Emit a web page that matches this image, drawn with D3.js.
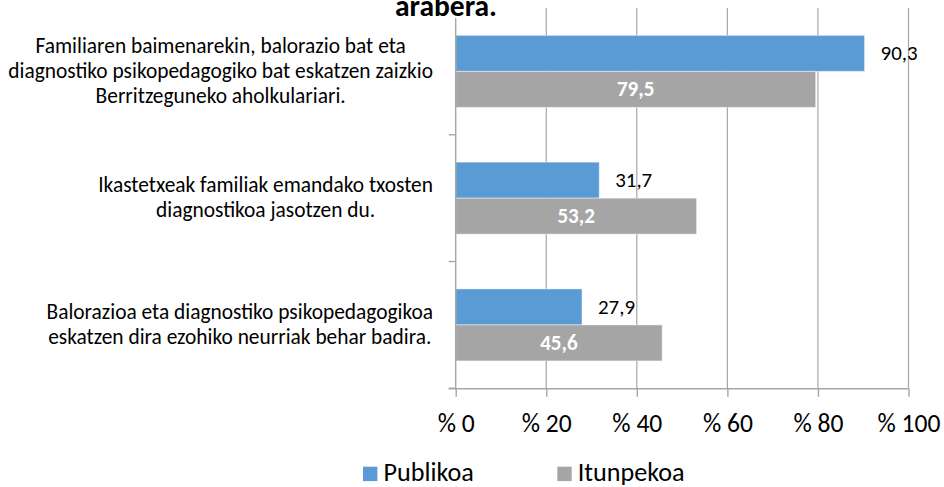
<!DOCTYPE html>
<html><head><meta charset="utf-8">
<script src="https://cdn.jsdelivr.net/npm/d3@7"></script>
<style>
html,body{margin:0;padding:0;background:#fff;}
svg{display:block;font-family:Carlito, Lato, "Open Sans", sans-serif;}
</style></head>
<body>
<svg id="chart" width="944" height="487"></svg>
<script>
const categories = [
  ["Familiaren baimenarekin, balorazio bat eta", "diagnostiko psikopedagogiko bat eskatzen zaizkio", "Berritzeguneko aholkulariari."],
  ["Ikastetxeak familiak emandako txosten", "diagnostikoa jasotzen du."],
  ["Balorazioa eta diagnostiko psikopedagogikoa", "eskatzen dira ezohiko neurriak behar badira."]
];
const seriesNames = ["Publikoa", "Itunpekoa"];
const publikoa = [90.3, 31.7, 27.9];
const itunpekoa = [79.5, 53.2, 45.6];
const xTicks = [0, 20, 40, 60, 80, 100];
const titleText = "arabera.";

const colors = ["#5B9BD5", "#A5A5A5"];
const FONT = "Carlito, Lato, 'Open Sans', sans-serif";
const svg = d3.select("#chart");
const plot = {left: 455.7, right: 908.5, top: 8, bottom: 388.3};

function fitSize(sample, target, weight) {
  const t = svg.append("text").attr("font-size", 100).attr("font-family", FONT)
    .attr("font-weight", weight || "normal").text(sample);
  const w = t.node().getComputedTextLength();
  t.remove();
  return 100 * target / w;
}
const catSize = fitSize("diagnostiko psikopedagogiko bat eskatzen zaizkio", 425);
const tickSize = fitSize("% 40", 50);
const legSize = fitSize("Itunpekoa", 107);
const valSize = fitSize("90,3", 37);
const valBoldSize = fitSize("79,5", 37.5, "bold");
const titleSize = fitSize("arabera.", 102, "bold");

const x = d3.scaleLinear().domain([0, 100]).range([plot.left, plot.right]);
const idx = d3.range(categories.length);
const y = d3.scaleBand().domain(idx).range([plot.top, plot.bottom]);
const barH = 36;
const padIn = (y.bandwidth() - 2 * barH) / 2;

svg.append("g").selectAll("line").data(xTicks.slice(1)).join("line")
  .attr("x1", d => x(d)).attr("x2", d => x(d))
  .attr("y1", plot.top).attr("y2", plot.bottom)
  .attr("stroke", "#A6A6A6").attr("stroke-width", 1.2);

const series = [publikoa, itunpekoa];
series.forEach((vals, s) => {
  svg.append("g").selectAll("rect").data(idx).join("rect")
    .attr("x", plot.left)
    .attr("y", i => y(i) + padIn + s * barH)
    .attr("width", i => x(vals[i]) - plot.left)
    .attr("height", barH)
    .attr("fill", colors[s])
    .attr("stroke", "#ffffff").attr("stroke-opacity", 0.45).attr("stroke-width", 1);
});

const xAxis = d3.axisBottom(x).tickValues(xTicks).tickSize(8.5).tickSizeOuter(0)
  .tickFormat(d => "% " + d);
const gx = svg.append("g").attr("transform", `translate(0,${plot.bottom})`).call(xAxis);
gx.select(".domain").attr("stroke", "#A6A6A6").attr("stroke-width", 1.4)
  .attr("d", `M${plot.left - 7},0.5H${plot.right}`);
gx.selectAll(".tick line").attr("stroke", "#A6A6A6").attr("stroke-width", 1.4);
gx.selectAll(".tick text").attr("fill", "#000").attr("font-size", tickSize)
  .attr("font-family", FONT).attr("dy", "0").attr("y", 431.7 - plot.bottom);

svg.append("line").attr("x1", plot.left).attr("x2", plot.left)
  .attr("y1", plot.top).attr("y2", plot.bottom)
  .attr("stroke", "#A6A6A6").attr("stroke-width", 1.4);
const edges = [plot.top].concat(idx.map(i => y(i) + y.bandwidth()));
svg.append("g").selectAll("line").data(edges).join("line")
  .attr("x1", plot.left - 7).attr("x2", plot.left)
  .attr("y1", d => d).attr("y2", d => d)
  .attr("stroke", "#A6A6A6").attr("stroke-width", 1.4);

const lineH = 25;
const labelRight = 433;
idx.forEach(i => {
  const g = svg.append("g");
  const lines = categories[i];
  const cy = y(i) + y.bandwidth() / 2;
  const texts = g.selectAll("text").data(lines).join("text")
    .attr("font-size", catSize).attr("fill", "#000")
    .attr("text-anchor", "middle")
    .attr("y", (d, k) => cy + (k - (lines.length - 1) / 2) * lineH + 6.5)
    .text(d => d);
  let maxW = 0;
  texts.each(function(){ maxW = Math.max(maxW, this.getComputedTextLength()); });
  texts.attr("x", labelRight - maxW / 2);
});

svg.append("g").selectAll("text").data(idx).join("text")
  .attr("x", i => x(publikoa[i]) + 16)
  .attr("y", i => y(i) + padIn + barH / 2 + 7)
  .attr("font-size", valSize).attr("fill", "#000")
  .text(i => d3.format(".1f")(publikoa[i]).replace(".", ","));
svg.append("g").selectAll("text").data(idx).join("text")
  .attr("x", i => (plot.left + x(itunpekoa[i])) / 2)
  .attr("y", i => y(i) + padIn + barH * 1.5 + 7)
  .attr("text-anchor", "middle")
  .attr("font-size", valBoldSize).attr("font-weight", "bold").attr("fill", "#fff")
  .text(i => d3.format(".1f")(itunpekoa[i]).replace(".", ","));

const tg = svg.append("g");
const tt = tg.append("text").attr("x", 446).attr("y", 16).attr("text-anchor", "middle")
  .attr("font-size", titleSize).attr("font-weight", "bold").attr("fill", "#000").text(titleText);
const bb = tt.node().getBBox();
tg.insert("rect", "text").attr("x", bb.x - 4).attr("y", 0).attr("width", bb.width + 8)
  .attr("height", 18).attr("fill", "#fff");

const legX = [363, 557.3];
const lg = svg.append("g");
seriesNames.forEach((n, s) => {
  lg.append("rect").attr("x", legX[s]).attr("y", 466.7).attr("width", 14.4).attr("height", 14.4)
    .attr("fill", colors[s]);
  lg.append("text").attr("x", legX[s] + 20.4).attr("y", 481).attr("font-size", legSize)
    .attr("fill", "#000").text(n);
});
</script>
</body></html>
